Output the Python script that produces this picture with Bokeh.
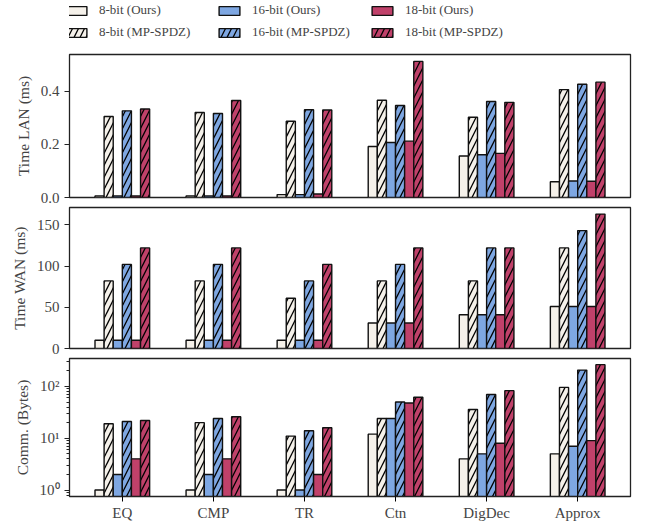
from bokeh.plotting import figure
from bokeh.models import ColumnDataSource, FixedTicker, Legend, LegendItem, Range1d, PrintfTickFormatter
from bokeh.transform import dodge
from bokeh.layouts import column
from bokeh.embed import file_html
from bokeh.resources import INLINE

categories = ["EQ", "CMP", "TR", "Ctn", "DigDec", "Approx"]

lan_8_ours = [0.006, 0.006, 0.011, 0.192, 0.156, 0.059]
lan_8_mp = [0.305, 0.320, 0.287, 0.366, 0.302, 0.406]
lan_16_ours = [0.006, 0.006, 0.011, 0.207, 0.161, 0.062]
lan_16_mp = [0.326, 0.316, 0.330, 0.346, 0.361, 0.426]
lan_18_ours = [0.006, 0.006, 0.013, 0.212, 0.166, 0.061]
lan_18_mp = [0.333, 0.365, 0.329, 0.512, 0.358, 0.434]

wan_8_ours = [10, 10, 10, 31, 41, 51]
wan_8_mp = [82, 82, 61, 82, 82, 122]
wan_16_ours = [10, 10, 10, 31, 41, 51]
wan_16_mp = [102, 102, 82, 102, 122, 143]
wan_18_ours = [10, 10, 10, 31, 41, 51]
wan_18_mp = [122, 122, 102, 122, 122, 163]

comm_8_ours = [1, 1, 1, 12, 4, 5]
comm_8_mp = [19, 20, 11, 24, 36, 96]
comm_16_ours = [2, 2, 1, 24, 5, 7]
comm_16_mp = [21, 24, 14, 50, 70, 207]
comm_18_ours = [4, 4, 2, 48, 8, 9]
comm_18_mp = [22, 26, 16, 62, 83, 264]

series_labels = ["8-bit (Ours)", "8-bit (MP-SPDZ)", "16-bit (Ours)",
                 "16-bit (MP-SPDZ)", "18-bit (Ours)", "18-bit (MP-SPDZ)"]
colors = ["#F5F1EA", "#F5F1EA", "#7EA7E2", "#7EA7E2", "#C0416A", "#C0416A"]
hatches = [None, "/", None, "/", None, "/"]
offsets = [-0.25, -0.15, -0.05, 0.05, 0.15, 0.25]

FONT = "Liberation Serif"
W = 641
LEFT = 69
FRAME_W = 561


def bar_style(i):
    kw = dict(fill_color=colors[i], line_color="#111111", line_width=1.4)
    if hatches[i]:
        kw.update(hatch_pattern=hatches[i], hatch_color="black", hatch_scale=12, hatch_weight=1.3)
    return kw


def make_source(values):
    return ColumnDataSource(dict(x=list(range(len(categories))), cat=categories,
                                 **{"s%d" % i: v for i, v in enumerate(values)}))


def make_panel(values, ylabel, y_range, y_type, height, top, bottom, xlabels):
    p = figure(width=W, height=height, output_backend="svg", toolbar_location=None,
               x_range=Range1d(-0.58, 5.58), y_range=y_range, y_axis_type=y_type,
               min_border_left=LEFT, min_border_right=W - LEFT - FRAME_W,
               min_border_top=top, min_border_bottom=bottom)
    p.grid.visible = False
    p.outline_line_color = "#222222"
    p.outline_line_width = 1.3
    src = make_source(values)
    base = 0.1 if y_type == "log" else 0
    for i in range(6):
        p.vbar(x=dodge("x", offsets[i]), top="s%d" % i, bottom=base, width=0.1, source=src,
               **bar_style(i))
    ya = p.yaxis[0]
    ya.axis_label = ylabel
    ya.axis_label_text_font = FONT
    ya.axis_label_text_font_size = "15.5px"
    ya.axis_label_text_font_style = "normal"
    ya.axis_label_standoff = 6
    ya.major_label_text_font = FONT
    ya.major_label_text_font_size = "15px"
    ya.major_label_standoff = 5
    ya.major_tick_in = 0
    ya.major_tick_out = 5
    ya.minor_tick_in = 0
    ya.minor_tick_out = 3
    ya.axis_line_color = "#222222"
    ya.major_tick_line_color = "#222222"
    ya.minor_tick_line_color = "#222222"
    xa = p.xaxis[0]
    if xlabels:
        xa.ticker = FixedTicker(ticks=list(range(len(categories))))
        xa.major_label_overrides = {i: c for i, c in enumerate(categories)}
        xa.major_label_text_font = FONT
        xa.major_label_text_font_size = "15px"
        xa.major_tick_in = 0
        xa.major_tick_out = 5
        xa.minor_tick_line_color = None
        xa.major_label_standoff = 3
        xa.axis_line_color = "#222222"
    else:
        xa.visible = False
    return p


lan_values = [lan_8_ours, lan_8_mp, lan_16_ours, lan_16_mp, lan_18_ours, lan_18_mp]

# legend strip: same LAN series as hidden renderers, so only the legend swatches show
p0 = figure(width=W, height=53, output_backend="svg", toolbar_location=None,
            x_range=Range1d(-0.58, 5.58), y_range=Range1d(10, 11),
            min_border_left=0, min_border_right=0, min_border_top=0, min_border_bottom=0)
p0.axis.visible = False
p0.grid.visible = False
p0.outline_line_color = None
src0 = make_source(lan_values)
leg_r = [p0.vbar(x=dodge("x", offsets[i]), top="s%d" % i, bottom=0, width=0.1, source=src0,
                 visible=False, **bar_style(i)) for i in range(6)]
order = [0, 2, 4, 1, 3, 5]
items = [LegendItem(label=series_labels[i], renderers=[leg_r[i]]) for i in order]
legend = Legend(items=items, ncols=3, location=(-6, 13), orientation="horizontal",
                glyph_width=26, glyph_height=11, label_standoff=10, label_width=111,
                spacing=6, padding=0, margin=0, border_line_color=None,
                background_fill_alpha=0, inactive_fill_alpha=0,
                label_text_font=FONT, label_text_font_size="13px")
p0.add_layout(legend, "center")

p1 = make_panel(lan_values, "Time LAN (ms)", Range1d(0, 0.538), "linear", 1 + 143 + 9, 1, 9, False)
p1.yaxis[0].ticker = FixedTicker(ticks=[0, 0.2, 0.4])
p1.yaxis[0].formatter = PrintfTickFormatter(format="%.1f")

p2 = make_panel([wan_8_ours, wan_8_mp, wan_16_ours, wan_16_mp, wan_18_ours, wan_18_mp],
                "Time WAN (ms)", Range1d(0, 171), "linear", 1 + 141 + 9, 1, 9, False)
p2.yaxis[0].ticker = FixedTicker(ticks=[0, 50, 100, 150])

p3 = make_panel([comm_8_ours, comm_8_mp, comm_16_ours, comm_16_mp, comm_18_ours, comm_18_mp],
                "Comm. (Bytes)", Range1d(0.75, 347), "log", 1 + 140 + 25, 1, 25, True)
minor = [0.8, 0.9] + [m * 10 ** e for e in range(0, 3) for m in range(2, 10) if m * 10 ** e < 347]
p3.yaxis[0].ticker = FixedTicker(ticks=[1, 10, 100], minor_ticks=minor)
p3.yaxis[0].major_label_overrides = {1: "10\u2070", 10: "10\u00b9", 100: "10\u00b2"}

layout = column(p0, p1, p2, p3, spacing=0)
open("out.html", "w").write(file_html(layout, INLINE))
